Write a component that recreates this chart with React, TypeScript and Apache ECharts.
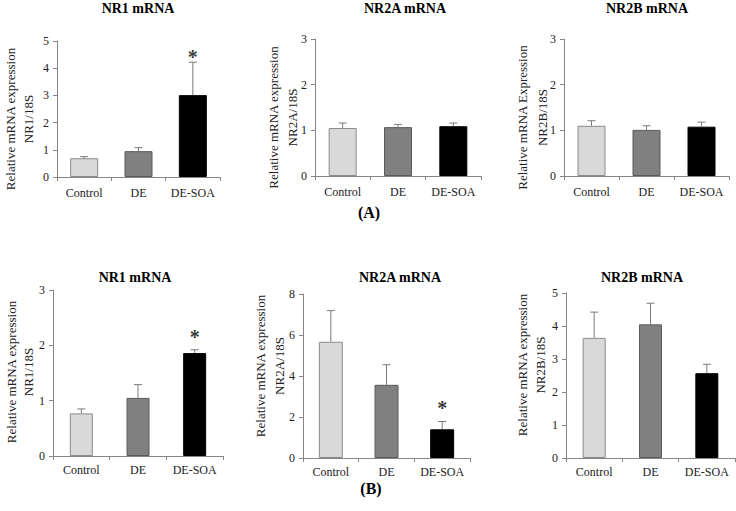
import React, { useEffect, useRef } from "react";
import * as echarts from "echarts";

const categories = ["Control", "DE", "DE-SOA"];

// Panel A (top row)
const a1Mean = [0.69, 0.95, 3.01];
const a1Upper = [0.75, 1.08, 4.22];
const a1Star = [null, null, 4.6];
const a2Mean = [1.05, 1.07, 1.09];
const a2Upper = [1.16, 1.13, 1.16];
const a3Mean = [1.1, 1.01, 1.08];
const a3Upper = [1.21, 1.1, 1.18];

// Panel B (bottom row)
const b1Mean = [0.77, 1.05, 1.86];
const b1Upper = [0.85, 1.29, 1.92];
const b1Star = [null, null, 2.24];
const b2Mean = [5.67, 3.57, 1.4];
const b2Upper = [7.19, 4.55, 1.78];
const b2Star = [null, null, 2.67];
const b3Mean = [3.64, 4.05, 2.57];
const b3Upper = [4.42, 4.69, 2.84];

const titles = ["NR1 mRNA", "NR2A mRNA", "NR2B mRNA", "NR1 mRNA", "NR2A mRNA", "NR2B mRNA"];
const yNameLine1 = [
  "Relative mRNA expression",
  "Relative mRNA expression",
  "Relative mRNA Expression",
  "Relative mRNA expression",
  "Relative mRNA expression",
  "Relative mRNA expression",
];
const yNameLine2 = ["NR1/18S", "NR2A/18S", "NR2B/18S", "NR1/18S", "NR2A/18S", "NR2B/18S"];
const yMax = [5, 3, 3, 3, 8, 5];
const yInterval = [1, 1, 1, 1, 2, 1];

const FONT = '"Liberation Serif", "Times New Roman", serif';
const fills = ["#d9d9d9", "#808080", "#000000"];
const borders = ["#8a8a8a", "#5a5a5a", "#000000"];

const layout = [
  { grid: { left: 57, top: 41, width: 163, height: 136 }, barWidth: 28, n1: 10, n2: 28, ny: 119, tx: 138, ty: 1 },
  { grid: { left: 315, top: 39, width: 166, height: 137 }, barWidth: 28, n1: 273, n2: 292, ny: 117.5, tx: 405, ty: 1 },
  { grid: { left: 564, top: 39, width: 165, height: 137 }, barWidth: 28, n1: 522, n2: 542, ny: 117.5, tx: 647, ty: 1 },
  { grid: { left: 53, top: 290, width: 170, height: 166 }, barWidth: 23, n1: 11, n2: 28, ny: 372, tx: 135, ty: 270 },
  { grid: { left: 303, top: 294, width: 167, height: 164 }, barWidth: 24, n1: 260, n2: 279, ny: 366, tx: 400, ty: 270 },
  { grid: { left: 566, top: 293, width: 169, height: 165 }, barWidth: 23, n1: 522, n2: 540, ny: 365, tx: 642, ty: 270 },
];

const means = [a1Mean, a2Mean, a3Mean, b1Mean, b2Mean, b3Mean];
const uppers = [a1Upper, a2Upper, a3Upper, b1Upper, b2Upper, b3Upper];
const stars: (number | null)[][] = [a1Star, [], [], b1Star, b2Star, []];

function buildOption() {
  const grid: any[] = [];
  const xAxis: any[] = [];
  const yAxis: any[] = [];
  const series: any[] = [];
  const title: any[] = [];
  const graphic: any[] = [];

  layout.forEach((L, k) => {
    grid.push({ ...L.grid, containLabel: false });
    xAxis.push({
      type: "category",
      gridIndex: k,
      data: categories,
      axisLine: { lineStyle: { color: "#868686", width: 1 } },
      axisTick: { show: true, length: 4, interval: 0, alignWithLabel: false, lineStyle: { color: "#868686" } },
      axisLabel: { interval: 0, color: "#222", fontFamily: FONT, fontSize: 12, margin: k < 3 ? 10 : 8 },
    });
    yAxis.push({
      type: "value",
      gridIndex: k,
      min: 0,
      max: yMax[k],
      interval: yInterval[k],
      splitLine: { show: false },
      axisLine: { show: true, lineStyle: { color: "#868686", width: 1 } },
      axisTick: { show: true, length: 4, lineStyle: { color: "#868686" } },
      axisLabel: { color: "#222", fontFamily: FONT, fontSize: 12, margin: 8 },
    });
    series.push({
      type: "bar",
      xAxisIndex: k,
      yAxisIndex: k,
      barWidth: L.barWidth,
      data: means[k].map((v, i) => ({
        value: v,
        itemStyle: { color: fills[i], borderColor: borders[i], borderWidth: 1 },
      })),
    });
    series.push({
      type: "custom",
      xAxisIndex: k,
      yAxisIndex: k,
      z: 5,
      data: means[k].map((v, i) => [i, v, uppers[k][i]]),
      encode: { x: 0, y: [1, 2] },
      renderItem: (params: any, api: any) => {
        const i = api.value(0);
        const p0 = api.coord([i, api.value(1)]);
        const p1 = api.coord([i, api.value(2)]);
        const st = { stroke: "#7a7a7a", lineWidth: 1 };
        return {
          type: "group",
          children: [
            { type: "line", shape: { x1: p0[0], y1: p0[1], x2: p1[0], y2: p1[1] }, style: st },
            { type: "line", shape: { x1: p1[0] - 4, y1: p1[1], x2: p1[0] + 4, y2: p1[1] }, style: st },
          ],
        };
      },
    });
    const sd = stars[k]
      .map((v, i) => (v == null ? null : [i, v]))
      .filter((d) => d != null);
    if (sd.length) {
      series.push({
        type: "scatter",
        xAxisIndex: k,
        yAxisIndex: k,
        symbol: "circle",
        symbolSize: 2,
        itemStyle: { color: "rgba(0,0,0,0)" },
        z: 6,
        data: sd,
        label: {
          show: true,
          position: "inside",
          formatter: "*",
          color: "#000",
          fontFamily: FONT,
          fontSize: 20,
          fontWeight: "bold",
          offset: [0, 5],
        },
      });
    }
    title.push({
      text: titles[k],
      left: L.tx,
      top: L.ty,
      textAlign: "center",
      padding: 0,
      textStyle: { fontFamily: FONT, fontSize: 14, fontWeight: "bold", color: "#000" },
    });
    const nameStyle = { fontFamily: FONT, fontSize: 13, fill: "#222", align: "center", verticalAlign: "middle" };
    graphic.push({
      type: "text",
      x: L.n1,
      y: L.ny,
      rotation: Math.PI / 2,
      style: { ...nameStyle, text: yNameLine1[k] },
    });
    graphic.push({
      type: "text",
      x: L.n2,
      y: L.ny,
      rotation: Math.PI / 2,
      style: { ...nameStyle, text: yNameLine2[k] },
    });
  });

  const richLbl = {
    p: { fontFamily: FONT, fontSize: 16, color: "#000" },
    b: { fontFamily: FONT, fontSize: 16, fontWeight: "bold", color: "#000" },
  };
  title.push({
    text: "{p|(}{b|A}{p|)}",
    left: 369,
    top: 204,
    textAlign: "center",
    padding: 0,
    textStyle: { rich: richLbl },
  });
  title.push({
    text: "{p|(}{b|B}{p|)}",
    left: 371,
    top: 480,
    textAlign: "center",
    padding: 0,
    textStyle: { rich: richLbl },
  });

  return {
    animation: false,
    backgroundColor: "#ffffff",
    title,
    grid,
    xAxis,
    yAxis,
    series,
    graphic,
  };
}

export default function App() {
  const ref = useRef<HTMLDivElement>(null);
  useEffect(() => {
    if (!ref.current) return;
    const chart = echarts.init(ref.current, undefined, { renderer: "svg" });
    chart.setOption(buildOption());
    return () => chart.dispose();
  }, []);
  return (
    <div
      ref={ref}
      style={{ position: "absolute", left: 0, top: 0, width: 736, height: 511 }}
    />
  );
}
